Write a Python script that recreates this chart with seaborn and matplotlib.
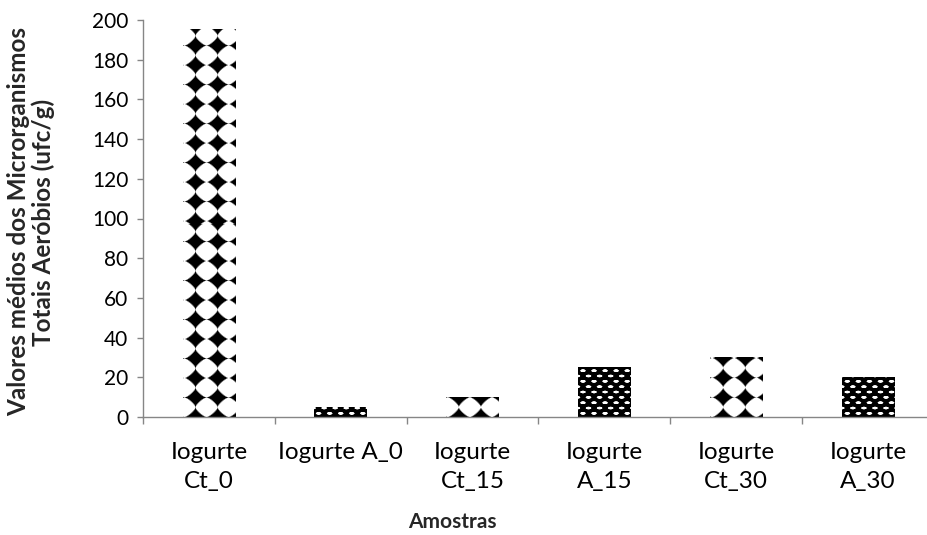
import numpy as np
import pandas as pd
import matplotlib
matplotlib.use("Agg")
import matplotlib.pyplot as plt
import seaborn as sns

# ---- data ----
categories = ["Iogurte\nCt_0", "Iogurte A_0", "Iogurte\nCt_15",
              "Iogurte\nA_15", "Iogurte\nCt_30", "Iogurte\nA_30"]
values = [195, 5, 10, 25, 30, 20]
patterns = ["diamond", "dots", "diamond", "dots", "diamond", "dots"]
y_ticks = list(range(0, 201, 20))
y_label = "Valores médios dos Microrganismos\nTotais Aeróbios (ufc/g)"
x_label = "Amostras"

sns.set_theme(style="white")
plt.rcParams['font.family'] = ['Lato', 'DejaVu Sans']

W, H, DPI = 927, 535, 100
GRAY = "#868686"
fig = plt.figure(figsize=(W / DPI, H / DPI), dpi=DPI)
ax = fig.add_axes([143 / W, 1 - 417 / H, (934 - 143) / W, (417 - 20) / H])

df = pd.DataFrame({"cat": categories, "val": values})
sns.barplot(data=df, x="cat", y="val", ax=ax, width=0.4, color="white",
            saturation=1, edgecolor="none")
ax.set_xlim(-0.5, len(categories) - 0.5)
ax.set_ylim(0, 200)


def pat_diamond(X, Y):
    px, py = 22.0, 19.5
    dx = np.mod(X - 195 + px / 2, px) - px / 2
    dy = np.mod(Y - 417 + py / 2, py) - py / 2
    d = (np.abs(dx) / (px / 2)) ** 0.8 + (np.abs(dy) / (py / 2)) ** 0.8
    return np.clip((0.95 - d) * 5 + 0.5, 0, 1)  # darkness


def pat_dots(X, Y):
    px, py = 11.0, 10.6
    white = np.zeros_like(X)
    for ox, oy in [(0, 0), (px / 2, py / 2)]:
        dx = np.mod(X - ox + px / 2, px) - px / 2
        dy = np.mod(Y - oy + py / 2, py) - py / 2
        r = (dx / 2.9) ** 2 + (dy / 1.5) ** 2
        white = np.maximum(white, np.clip((1.0 - r) * 1.5 + 0.35, 0, 1))
    return 1 - white


fig.canvas.draw()
funcs = {"diamond": pat_diamond, "dots": pat_dots}
for patch, kind in zip(ax.patches, patterns):
    x0, y0 = patch.get_x(), patch.get_y()
    w, h = patch.get_width(), patch.get_height()
    (dx0, dy0), (dx1, dy1) = ax.transData.transform([(x0, y0), (x0 + w, y0 + h)])
    nx = max(int(round(dx1 - dx0)), 1)
    ny = max(int(round(dy1 - dy0)), 1)
    xs = dx0 + (np.arange(nx) + 0.5) * (dx1 - dx0) / nx
    ys_top = H - (dy1 - (np.arange(ny) + 0.5) * (dy1 - dy0) / ny)  # row 0 = top
    X, Y = np.meshgrid(xs, ys_top)
    dark = funcs[kind](X, Y)
    img = np.dstack([1 - dark] * 3)
    ax.imshow(img, extent=(x0, x0 + w, y0, y0 + h), origin="upper",
              aspect="auto", interpolation="nearest", zorder=3)
    patch.set_facecolor("none")

ax.set_xlim(-0.5, len(categories) - 0.5)
ax.set_ylim(0, 200)
ax.set_aspect("auto")

# spines / ticks
for s in ["top", "right"]:
    ax.spines[s].set_visible(False)
for s in ["left", "bottom"]:
    ax.spines[s].set_color(GRAY)
    ax.spines[s].set_linewidth(1.0)
    ax.spines[s].set_zorder(5)

ax.set_yticks(y_ticks)
ax.set_yticklabels([str(v) for v in y_ticks])
ax.set_xticks(range(len(categories)))
ax.set_xticklabels(categories, linespacing=1.45)
ax.set_xticks(np.arange(-0.5, len(categories) + 0.5, 1.0), minor=True)
ax.tick_params(axis="y", which="major", left=True, direction="out",
               length=4.5, width=1, color=GRAY, pad=6, labelsize=15,
               labelcolor="black")
ax.tick_params(axis="x", which="major", bottom=True, length=0, pad=18,
               labelsize=17.5, labelcolor="black")
ax.tick_params(axis="x", which="minor", bottom=True, direction="out",
               length=5, width=1, color=GRAY)
ax.set_xlabel("")
ax.set_ylabel("")

fig.text(31 / W, 1 - 222 / H, y_label, rotation=90, ha="center",
         va="center", fontsize=17.5, fontweight="bold", multialignment="center",
         linespacing=1.1)
fig.text(452 / W, 1 - 522 / H, x_label, ha="center", va="center",
         fontsize=15, fontweight="bold")

fig.savefig("out.png", dpi=DPI)
